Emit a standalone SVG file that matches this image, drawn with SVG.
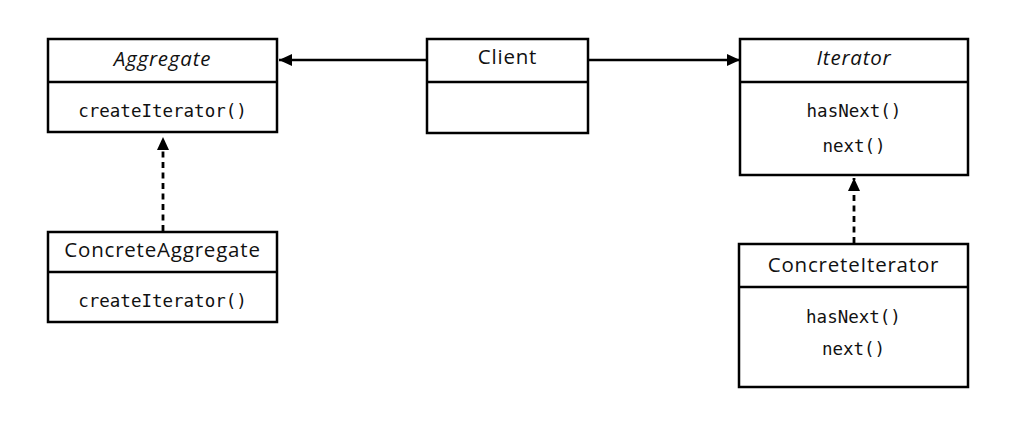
<svg xmlns="http://www.w3.org/2000/svg" width="1017" height="433" viewBox="0 0 1017 433">
<defs>
<style>
.box{fill:#fff;stroke:#000;stroke-width:2.5}
.div{stroke:#000;stroke-width:2.5}
.title{font-family:"Open Sans","Noto Sans",sans-serif;font-size:20.5px;letter-spacing:0.8px;fill:#111;text-anchor:middle}
.it{font-style:italic}
.m{font-family:"DejaVu Sans Mono","Liberation Mono",monospace;font-size:17.5px;fill:#111;text-anchor:middle}
.conn{stroke:#000;stroke-width:2.5;fill:none}
.dash{stroke-dasharray:6,4.5;stroke-width:2.8}
</style>
<marker id="ah" viewBox="0 0 13 12" refX="13" refY="6" markerWidth="13" markerHeight="12" markerUnits="userSpaceOnUse" orient="auto">
<path d="M0,0 L13,6 L0,12 z" fill="#000"/>
</marker>
</defs>
<g id="connectors">
<line class="conn" x1="427" y1="60" x2="279" y2="60" marker-end="url(#ah)"/>
<line class="conn" x1="588" y1="60" x2="740" y2="60" marker-end="url(#ah)"/>
<line class="conn dash" x1="163" y1="231" x2="163" y2="137" marker-end="url(#ah)"/>
<line class="conn dash" x1="854" y1="243" x2="854" y2="178" marker-end="url(#ah)"/>
</g>
<g id="Aggregate">
<rect class="box" x="48" y="39" width="229" height="93"/>
<line class="div" x1="48" y1="82" x2="277" y2="82"/>
<text class="title it" x="162.5" y="66">Aggregate</text>
<text class="m" x="162.5" y="117">createIterator()</text>
</g>
<g id="Client">
<rect class="box" x="427" y="39" width="161" height="94"/>
<line class="div" x1="427" y1="82" x2="588" y2="82"/>
<text class="title" x="507.5" y="64">Client</text>
</g>
<g id="Iterator">
<rect class="box" x="740" y="39" width="228" height="136"/>
<line class="div" x1="740" y1="82" x2="968" y2="82"/>
<text class="title it" x="854" y="65">Iterator</text>
<text class="m" x="854" y="117">hasNext()</text>
<text class="m" x="854" y="152">next()</text>
</g>
<g id="ConcreteAggregate">
<rect class="box" x="48" y="232" width="229" height="90"/>
<line class="div" x1="48" y1="272" x2="277" y2="272"/>
<text class="title" x="162.5" y="257">ConcreteAggregate</text>
<text class="m" x="162.5" y="307">createIterator()</text>
</g>
<g id="ConcreteIterator">
<rect class="box" x="739" y="244" width="229" height="143"/>
<line class="div" x1="739" y1="287" x2="968" y2="287"/>
<text class="title" x="853.5" y="272">ConcreteIterator</text>
<text class="m" x="853.5" y="323">hasNext()</text>
<text class="m" x="853.5" y="355">next()</text>
</g>
</svg>
